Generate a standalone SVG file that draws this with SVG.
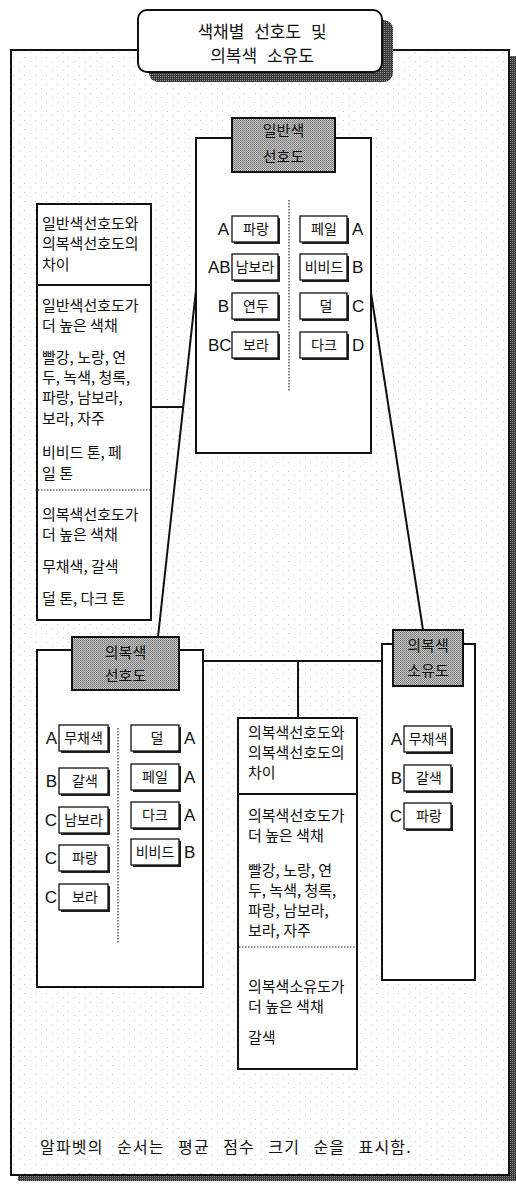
<svg xmlns="http://www.w3.org/2000/svg" width="516" height="1185" viewBox="0 0 516 1185">
<defs>
<pattern id="speckle" width="11" height="9" patternUnits="userSpaceOnUse"><rect width="11" height="9" fill="#fff"/><rect x="2" y="3" width="1" height="1" fill="#c4c4c4"/><rect x="8" y="7" width="1" height="1" fill="#d2d2d2"/></pattern>
<pattern id="grey" width="2" height="2" patternUnits="userSpaceOnUse"><rect width="2" height="2" fill="#c4c4c4"/><rect width="1" height="1" fill="#7a7a7a"/><rect x="1" y="1" width="1" height="1" fill="#8a8a8a"/></pattern>
<pattern id="dark" width="2" height="2" patternUnits="userSpaceOnUse"><rect width="2" height="2" fill="#3a3a3a"/><rect width="1" height="1" fill="#8a8a8a"/></pattern>
<style>
.ko{font-family:"Noto Sans CJK KR","Noto Sans",sans-serif;font-size:15px;fill:#111}
.title{font-size:17px;text-anchor:middle;word-spacing:6px}
.mid{text-anchor:middle}
.item{font-size:14px;text-anchor:middle}
.note{font-size:16px;letter-spacing:1.2px;word-spacing:8.5px}
.lt{font-family:"Liberation Sans",Arial,sans-serif;font-size:17px;fill:#111}
.end{text-anchor:end}
.bx{fill:#fff;stroke:#111;stroke-width:1.3}
.bs{fill:#222}
.box{fill:#fff;stroke:#111;stroke-width:2}
.hdr{fill:url(#grey);stroke:#111;stroke-width:2}
.dot{stroke:#333;stroke-width:1.2;stroke-dasharray:1.5 1.5;fill:none}
.sep{stroke:#111;stroke-width:2;fill:none}
.conn line{stroke:#111;stroke-width:2}
</style>
</defs>

<!-- outer frame -->
<g id="frame">
<rect x="18" y="56" width="498" height="1125" fill="url(#dark)"/>
<rect x="11" y="50" width="498" height="1125" fill="url(#speckle)" stroke="#111" stroke-width="2"/>
</g>

<!-- title -->
<g id="title">
<rect x="149" y="20" width="244" height="62" rx="9" fill="url(#dark)"/>
<rect x="138" y="10" width="244" height="62" rx="9" fill="#fff" stroke="#111" stroke-width="2"/>
<text class="ko title" x="262" y="38">색채별 선호도 및</text>
<text class="ko title" x="262" y="62">의복색 소유도</text>
</g>

<!-- connectors -->
<g id="connectors" class="conn">
<line x1="152" y1="407" x2="183" y2="407"/>
<line x1="196" y1="290" x2="158" y2="637"/>
<line x1="371" y1="293" x2="423" y2="630"/>
<line x1="203" y1="661" x2="382" y2="661"/>
<line x1="298" y1="661" x2="298" y2="718"/>
</g>

<!-- general colour preference -->
<g id="node-general">
<rect class="box" x="196" y="138" width="175" height="315"/>
<rect class="hdr" x="232" y="118" width="103" height="54"/>
<text class="ko mid" x="283.5" y="136">일반색</text>
<text class="ko mid" x="283.5" y="162">선호도</text>
<line class="dot" x1="289" y1="200" x2="289" y2="392"/>
<rect class="bs" x="234" y="218" width="46" height="26"/><rect class="bx" x="232" y="216" width="46" height="26"/>
<rect class="bs" x="234" y="256" width="46" height="26"/><rect class="bx" x="232" y="254" width="46" height="26"/>
<rect class="bs" x="234" y="295" width="46" height="26"/><rect class="bx" x="232" y="293" width="46" height="26"/>
<rect class="bs" x="234" y="334" width="46" height="26"/><rect class="bx" x="232" y="332" width="46" height="26"/>
<text class="ko item" x="256" y="234">파랑</text>
<text class="ko item" x="255" y="272">남보라</text>
<text class="ko item" x="256" y="311">연두</text>
<text class="ko item" x="256" y="350">보라</text>
<text class="lt end" x="229" y="235">A</text>
<text class="lt" x="208" y="273">AB</text>
<text class="lt end" x="229" y="312">B</text>
<text class="lt" x="208" y="351">BC</text>
<rect class="bs" x="302" y="218" width="47" height="26"/><rect class="bx" x="300" y="216" width="47" height="26"/>
<rect class="bs" x="302" y="256" width="47" height="26"/><rect class="bx" x="300" y="254" width="47" height="26"/>
<rect class="bs" x="302" y="295" width="47" height="26"/><rect class="bx" x="300" y="293" width="47" height="26"/>
<rect class="bs" x="302" y="334" width="47" height="26"/><rect class="bx" x="300" y="332" width="47" height="26"/>
<text class="ko item" x="324" y="234">페일</text>
<text class="ko item" x="324" y="272">비비드</text>
<text class="ko item" x="326" y="311">덜</text>
<text class="ko item" x="324" y="350">다크</text>
<text class="lt" x="352" y="235">A</text>
<text class="lt" x="352" y="273">B</text>
<text class="lt" x="352" y="312">C</text>
<text class="lt" x="352" y="351">D</text>
</g>

<!-- difference panel 1 -->
<g id="diff-general">
<rect class="box" x="37" y="204" width="114" height="416"/>
<line class="sep" x1="37" y1="285" x2="151" y2="285"/>
<line class="dot" x1="38" y1="490" x2="150" y2="490"/>
<text class="ko" x="42" y="228.5">일반색선호도와</text>
<text class="ko" x="42" y="248.5">의복색선호도의</text>
<text class="ko" x="42" y="269.5">차이</text>
<text class="ko" x="42" y="310.5">일반색선호도가</text>
<text class="ko" x="42" y="330.5">더 높은 색채</text>
<text class="ko" x="42" y="362.5">빨강, 노랑, 연</text>
<text class="ko" x="42" y="382.5">두, 녹색, 청록,</text>
<text class="ko" x="42" y="402.5">파랑, 남보라,</text>
<text class="ko" x="42" y="423.5">보라, 자주</text>
<text class="ko" x="42" y="457.5">비비드 톤, 페</text>
<text class="ko" x="42" y="478.5">일 톤</text>
<text class="ko" x="42" y="519.5">의복색선호도가</text>
<text class="ko" x="42" y="539.5">더 높은 색채</text>
<text class="ko" x="42" y="571.5">무채색, 갈색</text>
<text class="ko" x="42" y="603.5">덜 톤, 다크 톤</text>
</g>

<!-- clothing colour preference -->
<g id="node-clothing-pref">
<rect class="box" x="37" y="650" width="166" height="337"/>
<rect class="hdr" x="72" y="637" width="107" height="53"/>
<text class="ko mid" x="125.5" y="657.5">의복색</text>
<text class="ko mid" x="125.5" y="680.5">선호도</text>
<line class="dot" x1="118" y1="728" x2="118" y2="943"/>
<rect class="bs" x="61" y="727" width="49" height="26"/><rect class="bx" x="59" y="725" width="49" height="26"/>
<rect class="bs" x="61" y="770" width="49" height="26"/><rect class="bx" x="59" y="768" width="49" height="26"/>
<rect class="bs" x="61" y="809" width="49" height="26"/><rect class="bx" x="59" y="807" width="49" height="26"/>
<rect class="bs" x="61" y="847" width="49" height="26"/><rect class="bx" x="59" y="845" width="49" height="26"/>
<rect class="bs" x="61" y="886" width="49" height="26"/><rect class="bx" x="59" y="884" width="49" height="26"/>
<text class="ko item" x="83.5" y="743">무채색</text>
<text class="ko item" x="85" y="786">갈색</text>
<text class="ko item" x="83.5" y="825">남보라</text>
<text class="ko item" x="85" y="863">파랑</text>
<text class="ko item" x="85" y="902">보라</text>
<text class="lt end" x="57" y="744">A</text>
<text class="lt end" x="57" y="787">B</text>
<text class="lt end" x="57" y="826">C</text>
<text class="lt end" x="57" y="864">C</text>
<text class="lt end" x="57" y="903">C</text>
<rect class="bs" x="133" y="727" width="48" height="26"/><rect class="bx" x="131" y="725" width="48" height="26"/>
<rect class="bs" x="133" y="766" width="48" height="26"/><rect class="bx" x="131" y="764" width="48" height="26"/>
<rect class="bs" x="133" y="804" width="48" height="26"/><rect class="bx" x="131" y="802" width="48" height="26"/>
<rect class="bs" x="133" y="841" width="48" height="26"/><rect class="bx" x="131" y="839" width="48" height="26"/>
<text class="ko item" x="157" y="743">덜</text>
<text class="ko item" x="155" y="782">페일</text>
<text class="ko item" x="155" y="820">다크</text>
<text class="ko item" x="155" y="857">비비드</text>
<text class="lt" x="184" y="744">A</text>
<text class="lt" x="184" y="783">A</text>
<text class="lt" x="184" y="821">A</text>
<text class="lt" x="184" y="858">B</text>
</g>

<!-- difference panel 2 -->
<g id="diff-clothing">
<rect class="box" x="238" y="718" width="119" height="351"/>
<line class="sep" x1="238" y1="794" x2="357" y2="794"/>
<line class="dot" x1="239" y1="947" x2="356" y2="947"/>
<text class="ko" x="248" y="737.5">의복색선호도와</text>
<text class="ko" x="248" y="757.5">의복색선호도의</text>
<text class="ko" x="248" y="777.5">차이</text>
<text class="ko" x="248" y="820.5">의복색선호도가</text>
<text class="ko" x="248" y="840.5">더 높은 색채</text>
<text class="ko" x="248" y="875.5">빨강, 노랑, 연</text>
<text class="ko" x="248" y="896">두, 녹색, 청록,</text>
<text class="ko" x="248" y="916">파랑, 남보라,</text>
<text class="ko" x="248" y="936">보라, 자주</text>
<text class="ko" x="248" y="991.5">의복색소유도가</text>
<text class="ko" x="248" y="1011.5">더 높은 색채</text>
<text class="ko" x="248" y="1042.5">갈색</text>
</g>

<!-- clothing colour ownership -->
<g id="node-ownership">
<rect class="box" x="382" y="644" width="93" height="336"/>
<rect class="hdr" x="393" y="630" width="70" height="56"/>
<text class="ko mid" x="428" y="651">의복색</text>
<text class="ko mid" x="428" y="676">소유도</text>
<rect class="bs" x="406" y="728" width="47" height="26"/><rect class="bx" x="404" y="726" width="47" height="26"/>
<rect class="bs" x="406" y="767" width="47" height="26"/><rect class="bx" x="404" y="765" width="47" height="26"/>
<rect class="bs" x="406" y="805" width="47" height="26"/><rect class="bx" x="404" y="803" width="47" height="26"/>
<text class="ko item" x="428" y="744">무채색</text>
<text class="ko item" x="429" y="783">갈색</text>
<text class="ko item" x="429" y="821">파랑</text>
<text class="lt end" x="402" y="745">A</text>
<text class="lt end" x="402" y="784">B</text>
<text class="lt end" x="402" y="822">C</text>
</g>

<!-- note -->
<text class="ko note" x="40" y="1153">알파벳의 순서는 평균 점수 크기 순을 표시함.</text>
</svg>
